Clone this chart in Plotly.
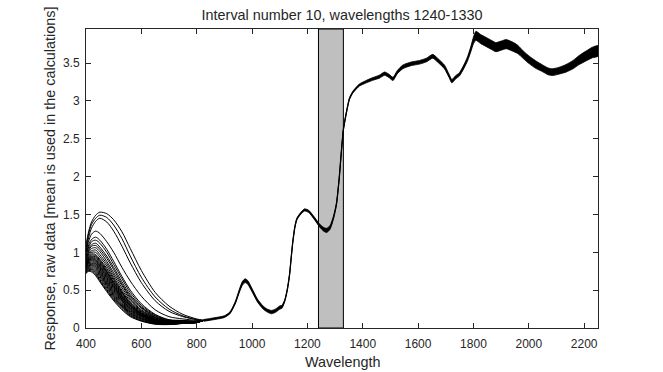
import plotly.graph_objects as go

# ---------------- data ----------------
TITLE = "Interval number 10, wavelengths 1240-1330"
X_LABEL = "Wavelength"
Y_LABEL = "Response, raw data [mean is used in the calculations]"

INTERVAL = [1240, 1330]
X_RANGE = [400, 2250]
Y_RANGE = [0, 3.95]
X_TICKS = [400, 600, 800, 1000, 1200, 1400, 1600, 1800, 2000, 2200]
Y_TICKS = [0, 0.5, 1, 1.5, 2, 2.5, 3, 3.5]

# visible-spectrum part, where the individual spectra separate
WL_LOW = [400, 410, 420, 435, 450, 475, 500, 530, 560, 600, 650, 700, 750, 800, 825]

LOW_SPECTRA = [
    [1.10, 1.28, 1.40, 1.49, 1.53, 1.51, 1.43, 1.27, 1.05, 0.76, 0.47, 0.29, 0.18, 0.12, 0.10],
    [1.05, 1.25, 1.37, 1.45, 1.49, 1.46, 1.36, 1.18, 0.95, 0.67, 0.41, 0.25, 0.16, 0.11, 0.10],
    [1.00, 1.20, 1.32, 1.41, 1.45, 1.40, 1.28, 1.08, 0.86, 0.60, 0.36, 0.22, 0.15, 0.11, 0.10],
    [1.00, 1.15, 1.24, 1.28, 1.25, 1.14, 1.00, 0.80, 0.62, 0.42, 0.24, 0.15, 0.12, 0.10, 0.10],
    [0.98, 1.10, 1.17, 1.20, 1.16, 1.04, 0.88, 0.68, 0.50, 0.32, 0.18, 0.11, 0.10, 0.09, 0.10],
    [0.96, 1.07, 1.14, 1.16, 1.12, 1.00, 0.84, 0.65, 0.47, 0.30, 0.17, 0.105, 0.097, 0.088, 0.10],
    [0.94, 1.04, 1.10, 1.12, 1.07, 0.95, 0.80, 0.61, 0.44, 0.28, 0.16, 0.10, 0.094, 0.087, 0.10],
    [0.92, 1.02, 1.08, 1.09, 1.04, 0.92, 0.77, 0.58, 0.42, 0.27, 0.15, 0.096, 0.091, 0.086, 0.10],
    [0.91, 1.00, 1.05, 1.06, 1.01, 0.88, 0.73, 0.56, 0.40, 0.26, 0.14, 0.092, 0.089, 0.084, 0.10],
    [0.89, 0.98, 1.02, 1.03, 0.97, 0.85, 0.70, 0.53, 0.38, 0.24, 0.136, 0.088, 0.086, 0.083, 0.10],
    [0.88, 0.96, 1.00, 1.00, 0.94, 0.82, 0.67, 0.50, 0.36, 0.23, 0.13, 0.084, 0.084, 0.082, 0.10],
    [0.86, 0.94, 0.98, 0.97, 0.91, 0.79, 0.65, 0.48, 0.34, 0.22, 0.12, 0.081, 0.082, 0.081, 0.10],
    [0.855, 0.93, 0.965, 0.955, 0.895, 0.77, 0.63, 0.47, 0.33, 0.21, 0.117, 0.079, 0.081, 0.080, 0.10],
    [0.85, 0.92, 0.95, 0.94, 0.88, 0.75, 0.61, 0.46, 0.32, 0.20, 0.114, 0.077, 0.080, 0.080, 0.10],
    [0.84, 0.91, 0.94, 0.925, 0.865, 0.74, 0.60, 0.445, 0.31, 0.195, 0.11, 0.075, 0.079, 0.079, 0.10],
    [0.83, 0.90, 0.93, 0.91, 0.85, 0.73, 0.59, 0.43, 0.30, 0.19, 0.107, 0.074, 0.078, 0.079, 0.10],
    [0.825, 0.895, 0.92, 0.90, 0.835, 0.715, 0.575, 0.42, 0.295, 0.185, 0.103, 0.072, 0.077, 0.078, 0.10],
    [0.82, 0.89, 0.91, 0.89, 0.82, 0.70, 0.56, 0.41, 0.29, 0.18, 0.100, 0.070, 0.076, 0.078, 0.10],
    [0.815, 0.88, 0.90, 0.875, 0.81, 0.685, 0.55, 0.40, 0.28, 0.175, 0.097, 0.068, 0.075, 0.077, 0.10],
    [0.81, 0.87, 0.89, 0.86, 0.80, 0.67, 0.54, 0.39, 0.27, 0.17, 0.094, 0.067, 0.074, 0.077, 0.10],
    [0.805, 0.86, 0.875, 0.85, 0.785, 0.655, 0.525, 0.38, 0.26, 0.165, 0.091, 0.065, 0.073, 0.076, 0.10],
    [0.80, 0.85, 0.86, 0.84, 0.77, 0.64, 0.51, 0.37, 0.25, 0.16, 0.088, 0.064, 0.072, 0.076, 0.10],
    [0.79, 0.84, 0.85, 0.825, 0.755, 0.625, 0.495, 0.36, 0.24, 0.155, 0.084, 0.062, 0.071, 0.075, 0.10],
    [0.78, 0.83, 0.84, 0.81, 0.74, 0.61, 0.48, 0.35, 0.23, 0.15, 0.081, 0.060, 0.070, 0.075, 0.10],
    [0.775, 0.82, 0.83, 0.795, 0.725, 0.595, 0.465, 0.335, 0.22, 0.14, 0.077, 0.058, 0.068, 0.074, 0.10],
    [0.77, 0.81, 0.82, 0.78, 0.71, 0.58, 0.45, 0.32, 0.21, 0.13, 0.073, 0.057, 0.067, 0.074, 0.10],
    [0.76, 0.80, 0.805, 0.765, 0.695, 0.565, 0.435, 0.305, 0.20, 0.125, 0.070, 0.055, 0.066, 0.073, 0.10],
    [0.75, 0.79, 0.79, 0.75, 0.68, 0.55, 0.42, 0.29, 0.19, 0.12, 0.066, 0.053, 0.065, 0.072, 0.10],
    [0.745, 0.78, 0.78, 0.735, 0.66, 0.53, 0.405, 0.28, 0.18, 0.11, 0.062, 0.051, 0.063, 0.072, 0.10],
    [0.74, 0.77, 0.77, 0.72, 0.64, 0.51, 0.39, 0.27, 0.17, 0.10, 0.058, 0.049, 0.062, 0.071, 0.10],
    [0.73, 0.76, 0.755, 0.705, 0.625, 0.495, 0.375, 0.255, 0.16, 0.095, 0.054, 0.047, 0.061, 0.071, 0.10],
    [0.72, 0.75, 0.74, 0.69, 0.61, 0.48, 0.36, 0.24, 0.15, 0.09, 0.050, 0.045, 0.060, 0.070, 0.10],
]

# near-infrared part, where all spectra coincide (mean curve + spread of the bundle)
WL_COMMON = [825, 850, 875, 900, 920, 940, 955, 965, 975, 985, 1000, 1020, 1040, 1055, 1070,
             1085, 1100, 1108, 1118, 1128, 1136, 1142, 1148, 1155, 1162, 1175, 1190, 1205, 1225,
             1245, 1260, 1270, 1282, 1295, 1305, 1315, 1322, 1330, 1340, 1352, 1365, 1388, 1410,
             1436, 1460, 1479, 1495, 1509, 1525, 1545, 1575, 1605, 1630, 1653, 1670, 1695, 1712,
             1722, 1735, 1749, 1765, 1779, 1791, 1800, 1809, 1825, 1845, 1865, 1881, 1900, 1918,
             1940, 1960, 1980, 2002, 2025, 2050, 2070, 2086, 2110, 2134, 2160, 2182, 2205, 2230, 2250]
MEAN_COMMON = [0.10, 0.115, 0.13, 0.15, 0.20, 0.34, 0.50, 0.59, 0.625, 0.60, 0.50, 0.36, 0.27, 0.23, 0.21,
               0.23, 0.27, 0.28, 0.36, 0.52, 0.72, 0.95, 1.16, 1.34, 1.44, 1.51, 1.56, 1.54, 1.45,
               1.35, 1.30, 1.29, 1.33, 1.47, 1.64, 1.98, 2.30, 2.62, 2.83, 3.03, 3.12, 3.21, 3.25,
               3.29, 3.32, 3.36, 3.33, 3.29, 3.38, 3.45, 3.49, 3.51, 3.54, 3.59, 3.54, 3.45, 3.33,
               3.26, 3.31, 3.35, 3.45, 3.56, 3.69, 3.80, 3.86, 3.82, 3.78, 3.74, 3.71, 3.73, 3.75,
               3.72, 3.68, 3.61, 3.54, 3.48, 3.43, 3.39, 3.38, 3.40, 3.43, 3.48, 3.54, 3.59, 3.64, 3.66]
SPREAD_COMMON = [0.012, 0.012, 0.012, 0.012, 0.012, 0.015, 0.02, 0.025, 0.025, 0.025, 0.022, 0.02, 0.02, 0.02, 0.022,
                 0.022, 0.022, 0.02, 0.012, 0.012, 0.012, 0.012, 0.012, 0.012, 0.012, 0.012, 0.014, 0.014, 0.016,
                 0.02, 0.025, 0.028, 0.025, 0.018, 0.014, 0.012, 0.012, 0.012, 0.012, 0.012, 0.012, 0.014, 0.016,
                 0.018, 0.02, 0.022, 0.022, 0.022, 0.022, 0.024, 0.024, 0.024, 0.024, 0.025, 0.025, 0.025, 0.022,
                 0.022, 0.022, 0.022, 0.024, 0.028, 0.035, 0.045, 0.06, 0.06, 0.06, 0.06, 0.06, 0.06, 0.06,
                 0.06, 0.055, 0.05, 0.05, 0.05, 0.045, 0.045, 0.045, 0.045, 0.05, 0.055, 0.06, 0.065, 0.07, 0.07]

# ---------------- figure ----------------
INK = "#262626"
FONT = "Liberation Sans, Arial, Helvetica, sans-serif"
W, H = 663, 372
L, R, T, B = 86, 64.5, 28.5, 44
LABEL_SIZE = 14.4

fig = go.Figure()

# highlighted interval
fig.add_trace(go.Scatter(
    x=[INTERVAL[0], INTERVAL[0], INTERVAL[1], INTERVAL[1], INTERVAL[0]],
    y=[Y_RANGE[0], Y_RANGE[1], Y_RANGE[1], Y_RANGE[0], Y_RANGE[0]],
    mode="lines", fill="toself", fillcolor="#bfbfbf",
    line=dict(color="black", width=1), hoverinfo="skip", showlegend=False))

# individual spectra (visible range)
for spec in LOW_SPECTRA:
    fig.add_trace(go.Scatter(
        x=WL_LOW, y=spec, mode="lines",
        line=dict(color="black", width=1.0, shape="spline", smoothing=0.8),
        hoverinfo="skip", showlegend=False))

# bundle of coinciding spectra (spread drawn as a filled band)
upper = [m + s for m, s in zip(MEAN_COMMON, SPREAD_COMMON)]
lower = [m - s for m, s in zip(MEAN_COMMON, SPREAD_COMMON)]
fig.add_trace(go.Scatter(
    x=WL_COMMON + WL_COMMON[::-1], y=upper + lower[::-1],
    mode="lines", fill="toself", fillcolor="black",
    line=dict(color="black", width=0.8, shape="spline", smoothing=0.6),
    hoverinfo="skip", showlegend=False))
fig.add_trace(go.Scatter(
    x=WL_COMMON, y=MEAN_COMMON, mode="lines",
    line=dict(color="black", width=1.2, shape="spline", smoothing=0.6),
    hoverinfo="skip", showlegend=False))

axis_common = dict(
    showline=True, linecolor=INK, linewidth=1, mirror="ticks",
    ticks="inside", ticklen=5, tickcolor=INK, tickwidth=1,
    showgrid=False, zeroline=False, automargin=False,
    tickfont=dict(family=FONT, size=12, color=INK),
)

fig.update_layout(
    width=W, height=H, autosize=False,
    margin=dict(l=L, r=R, t=T, b=B, pad=0),
    paper_bgcolor="white", plot_bgcolor="white",
    font=dict(family=FONT, color=INK),
    hovermode=False,
    title=dict(text=TITLE, x=0.5, xref="paper", xanchor="center",
               y=1 - 15 / H, yref="container", yanchor="middle",
               font=dict(family=FONT, size=LABEL_SIZE, color=INK)),
    xaxis=dict(range=X_RANGE, tickvals=X_TICKS, ticktext=[str(v) for v in X_TICKS],
               ticklabelstandoff=5, **axis_common),
    yaxis=dict(range=Y_RANGE, tickvals=Y_TICKS, ticktext=[f"{v:g}" for v in Y_TICKS],
               ticklabelstandoff=3, **axis_common),
    annotations=[
        dict(text=X_LABEL, xref="paper", yref="paper",
             x=0.5, y=-(362 - (H - B)) / (H - T - B), xanchor="center", yanchor="middle",
             showarrow=False, font=dict(family=FONT, size=LABEL_SIZE, color=INK)),
        dict(text=Y_LABEL, xref="paper", yref="paper", textangle=-90,
             x=-(L - 49) / (W - L - R), y=0.5, xanchor="center", yanchor="middle",
             showarrow=False, font=dict(family=FONT, size=LABEL_SIZE, color=INK)),
    ],
)

fig.write_html(
    "out.html",
    config={"displayModeBar": False, "staticPlot": True},
    post_script="document.body.style.margin='0';document.body.style.overflow='hidden';",
)
